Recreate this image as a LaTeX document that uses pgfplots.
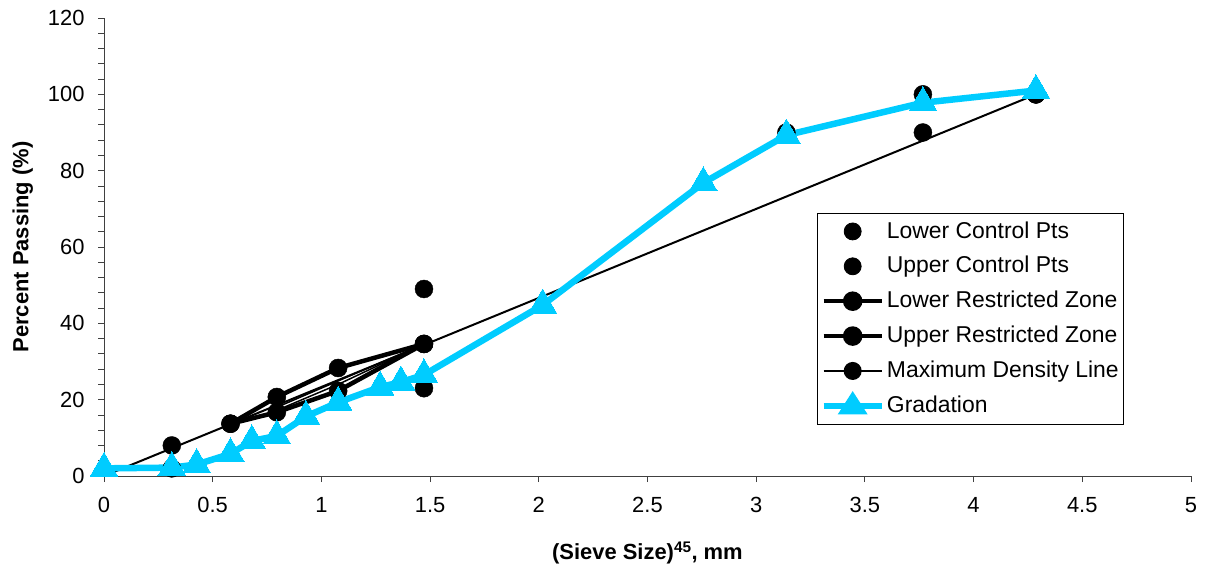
\documentclass[border=0pt]{standalone}
\usepackage{fontspec}
\setmainfont{Liberation Sans}
\usepackage{pgfplots}
\pgfplotsset{compat=1.18}
\definecolor{grad}{RGB}{0,204,255}
\begin{document}
\fontsize{22}{25}\selectfont
\begin{tikzpicture}
\path[use as bounding box] (0,0) rectangle (1208bp,570bp);
\begin{axis}[
  at={(104bp,94bp)}, anchor=south west,
  scale only axis, width=1087bp, height=458bp,
  xmin=0, xmax=5, ymin=0, ymax=120,
  axis lines=left, axis line style={-, line width=0.9bp, black!75},
  xtick={0,0.5,...,5}, ytick={0,20,...,120},
  minor y tick num=4,
  tick align=outside, major tick length=6bp, minor tick length=6bp,
  tick style={line width=0.8bp, black!75},
  xticklabels={0,0.5,1,1.5,2,2.5,3,3.5,4,4.5,5},
  yticklabels={0,20,40,60,80,100,120},
  xticklabel style={font=\fontsize{22}{25}\selectfont, yshift=-8bp},
  yticklabel style={font=\fontsize{22}{25}\selectfont, xshift=-6bp},
  xlabel={\textbf{(Sieve Size)\textsuperscript{45}, mm}},
  ylabel={\textbf{Percent Passing (\%)}},
  xlabel style={font=\fontsize{22}{25}\selectfont, yshift=-14bp},
  ylabel style={font=\fontsize{22}{25}\selectfont, yshift=0bp},
  clip=false,
  legend cell align=left,
  legend style={at={(0.656,0.574)}, anchor=north west, draw=black, line width=0.8bp,
    font=\fontsize{23}{25}\selectfont, row sep=11bp, inner xsep=3bp, inner ysep=6bp},
]
% Lower control points
\addplot[only marks, mark=*, mark size=9bp, black,
  legend image code/.code={\fill[black] (29bp,0bp) circle (8.5bp);}] coordinates {
(0.312,2) (1.472,23) (3.767,90) (4.287,100)};
\addlegendentry{Lower Control Pts}
% Upper control points
\addplot[only marks, mark=*, mark size=9bp, black,
  legend image code/.code={\fill[black] (29bp,0bp) circle (8.5bp);}] coordinates {
(0.312,8) (1.472,49) (3.139,90) (3.767,100) (4.287,100)};
\addlegendentry{Upper Control Pts}
% Lower restricted zone
\addplot[black, line width=4.5bp, mark=*, mark size=9bp, mark options={line width=0.5bp},
  legend image code/.code={
    \draw[black, line width=4.5bp] (0bp,0bp) -- (58bp,0bp);
    \fill[black] (29bp,0bp) circle (7.5bp);}] coordinates {
(0.582,13.7) (0.795,16.7) (1.077,22.3) (1.472,34.6)};
\addlegendentry{Lower Restricted Zone}
% Upper restricted zone
\addplot[black, line width=4.5bp, mark=*, mark size=9bp, mark options={line width=0.5bp},
  legend image code/.code={
    \draw[black, line width=4.5bp] (0bp,0bp) -- (58bp,0bp);
    \fill[black] (29bp,0bp) circle (7.5bp);}] coordinates {
(0.582,13.7) (0.795,20.7) (1.077,28.3) (1.472,34.6)};
\addlegendentry{Upper Restricted Zone}
% Maximum density line
\addplot[black, line width=2bp, mark=*, mark size=9bp, mark options={line width=0.5bp},
  mark indices={2},
  legend image code/.code={
    \draw[black, line width=2bp] (0bp,0bp) -- (58bp,0bp);
    \fill[black] (29bp,0bp) circle (8bp);}] coordinates {
(0,0) (4.287,100)};
\addlegendentry{Maximum Density Line}
\addplot[black, line width=1.5bp, forget plot] coordinates {
(0.795,18.0) (1.472,34.6)};
\addplot[black, line width=1.5bp, forget plot] coordinates {
(0.795,17.2) (1.077,24.0) (1.472,34.6)};
% Gradation
\addplot[grad, line width=6.5bp, mark=triangle*, mark size=16bp,
  mark options={solid, line width=0bp, fill=grad},
  legend image code/.code={
    \draw[grad, line width=6.5bp] (0bp,0bp) -- (58bp,0bp);
    \fill[grad] (29bp,9bp) -- (38bp,-5bp) -- (20bp,-5bp) -- cycle;}] coordinates {
(0,2) (0.312,2.2) (0.426,3) (0.582,5.8) (0.680,9.2) (0.795,10.5) (0.929,15.6)
(1.077,19.3) (1.270,23.3) (1.366,24.6) (1.472,26.5) (2.018,44.8) (2.757,76.8)
(3.139,89.3) (3.767,97.8) (4.287,101)};
\addlegendentry{Gradation}
\end{axis}
\end{tikzpicture}
\end{document}
